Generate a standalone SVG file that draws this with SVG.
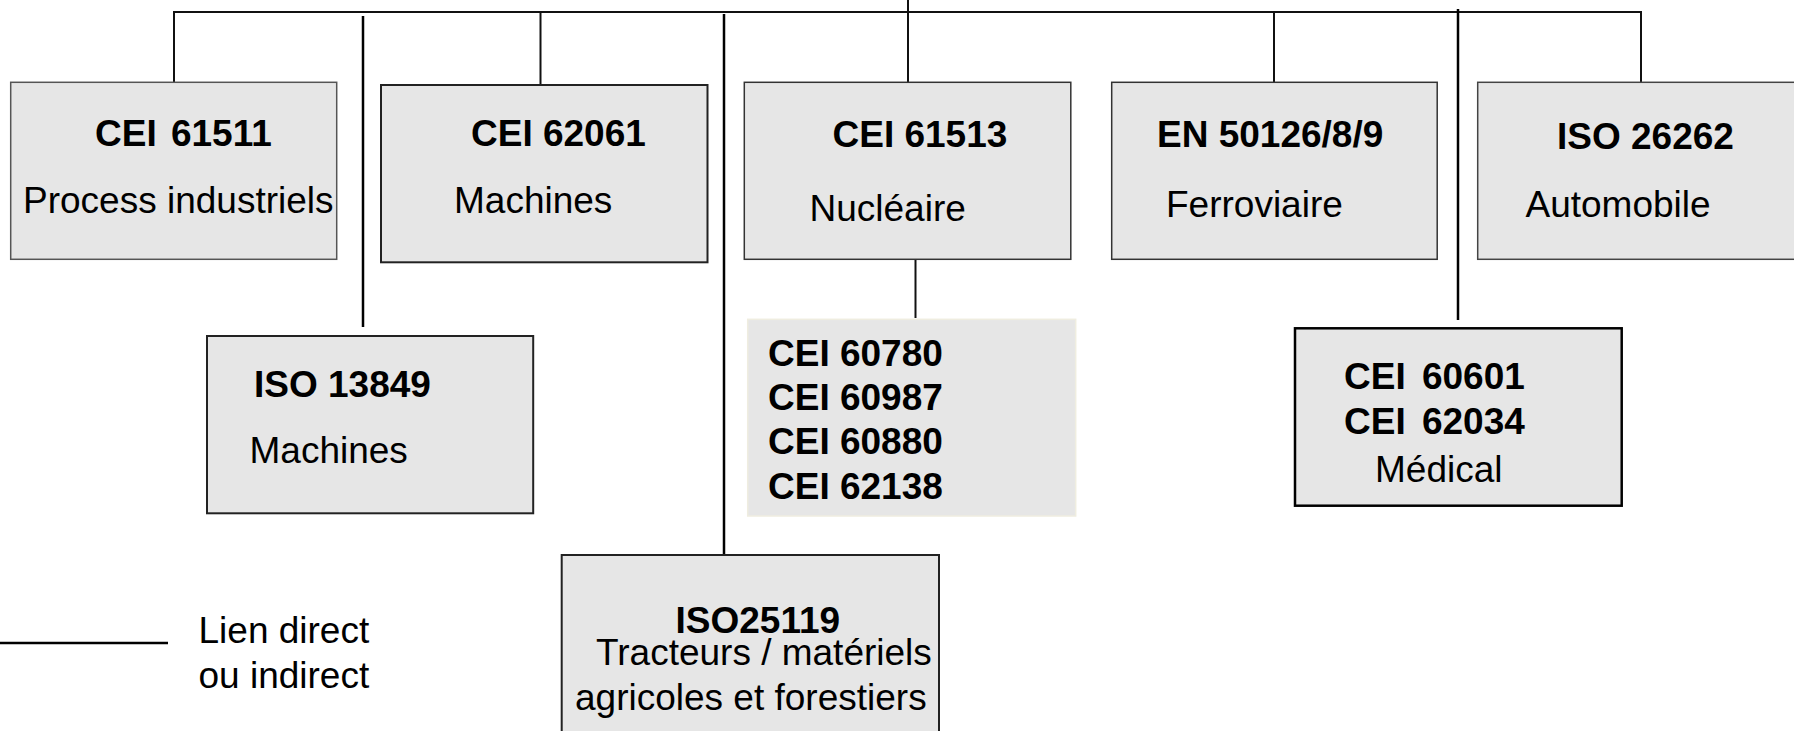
<svg xmlns="http://www.w3.org/2000/svg" width="1794" height="731" viewBox="0 0 1794 731">
<style>
.box{fill:#e6e6e6;stroke:#333;stroke-width:1.5}
.b{font-family:"Liberation Sans",Arial,sans-serif;font-size:37px;font-weight:bold;fill:#000}
.r{font-family:"Liberation Sans",Arial,sans-serif;font-size:37px;fill:#000}
.ln{stroke:#111;stroke-width:2;fill:none}
.lg{stroke:#000;stroke-width:2.5;fill:none}
</style>
<rect width="1794" height="731" fill="#fff"/>
<g id="connectors">
<polyline class="ln" points="174,82 174,12 1641,12 1641,82"/>
<line class="ln" x1="540.5" y1="12" x2="540.5" y2="85"/>
<line class="ln" x1="908" y1="0" x2="908" y2="82"/>
<line class="ln" x1="1274" y1="12" x2="1274" y2="82"/>
<line class="lg" x1="363" y1="16" x2="363" y2="327"/>
<line class="lg" x1="724" y1="14" x2="724" y2="555"/>
<line class="lg" x1="1458" y1="9" x2="1458" y2="320"/>
<line class="ln" x1="915.5" y1="257" x2="915.5" y2="318"/>
</g>
<g id="n-cei61511">
<rect class="box" x="10.7" y="82.3" width="326" height="177" style="stroke:#555"/>
<text class="b" x="95" y="146" style="word-spacing:4px">CEI 61511</text>
<text class="r" x="23" y="213">Process industriels</text>
</g>
<g id="n-cei62061">
<rect class="box" x="381" y="85" width="326.5" height="177.3" style="stroke:#222;stroke-width:2"/>
<text class="b" x="471" y="146">CEI 62061</text>
<text class="r" x="454" y="213">Machines</text>
</g>
<g id="n-cei61513">
<rect class="box" x="744.3" y="82.3" width="326.5" height="177"/>
<text class="b" x="832.5" y="147">CEI 61513</text>
<text class="r" x="809.5" y="220.5">Nucléaire</text>
</g>
<g id="n-en50126">
<rect class="box" x="1111.7" y="82.3" width="325.5" height="177"/>
<text class="b" x="1157" y="147">EN 50126/8/9</text>
<text class="r" x="1166" y="217">Ferroviaire</text>
</g>
<g id="n-iso26262">
<rect class="box" x="1477.7" y="82.3" width="330" height="177" style="stroke:#444"/>
<text class="b" x="1557" y="149">ISO 26262</text>
<text class="r" x="1525.5" y="217">Automobile</text>
</g>
<g id="n-iso13849">
<rect class="box" x="207" y="336" width="326.2" height="177.3" style="stroke:#222;stroke-width:2"/>
<text class="b" x="254" y="396.5">ISO 13849</text>
<text class="r" x="249.5" y="462.5">Machines</text>
</g>
<g id="n-cei-nucleaire">
<rect x="747.7" y="319.3" width="328" height="196.7" fill="#e6e6e6" stroke="#efede0" stroke-width="1.5"/>
<text class="b" x="768" y="366">CEI 60780</text>
<text class="b" x="768" y="410">CEI 60987</text>
<text class="b" x="768" y="454">CEI 60880</text>
<text class="b" x="768" y="499">CEI 62138</text>
</g>
<g id="n-cei60601">
<rect class="box" x="1295" y="328.3" width="326.7" height="177.4" style="stroke:#000;stroke-width:2.5"/>
<text class="b" x="1344" y="389" style="word-spacing:6px">CEI 60601</text>
<text class="b" x="1344" y="434" style="word-spacing:6px">CEI 62034</text>
<text class="r" x="1375" y="482">Médical</text>
</g>
<g id="n-iso25119">
<rect class="box" x="561.7" y="555" width="377.3" height="190" style="stroke:#222;stroke-width:2"/>
<text class="b" x="675.5" y="633">ISO25119</text>
<text class="r" x="596" y="665">Tracteurs / matériels</text>
<text class="r" x="575" y="710">agricoles et forestiers</text>
</g>
<g id="legend">
<line x1="0" y1="643" x2="168" y2="643" stroke="#000" stroke-width="2.5"/>
<text class="r" x="198.5" y="643">Lien direct</text>
<text class="r" x="198.5" y="688">ou indirect</text>
</g>
</svg>
